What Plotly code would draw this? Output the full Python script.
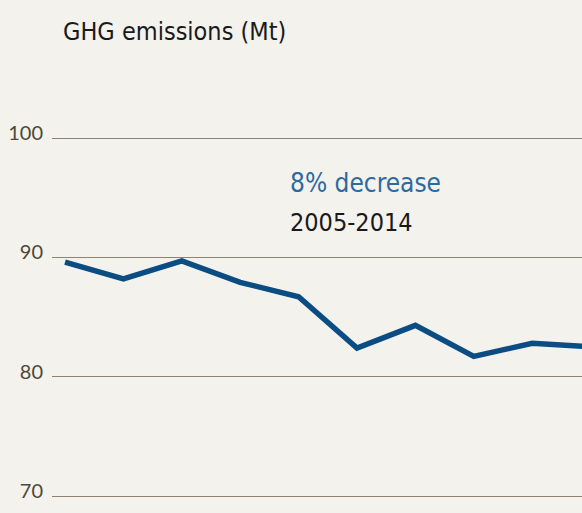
import plotly.graph_objects as go

years = [2005, 2006, 2007, 2008, 2009, 2010, 2011, 2012, 2013, 2014]
emissions = [89.6, 88.2, 89.7, 87.9, 86.7, 82.4, 84.3, 81.7, 82.8, 82.5]
y_ticks = [70, 80, 90, 100]
title_text = "GHG emissions (Mt)"
note_main = "8% decrease"
note_sub = "2005-2014"

BG = "#f4f2ed"
COND = "DejaVu Sans Condensed, Roboto Condensed, Noto Sans Condensed, Roboto"
fig = go.Figure()
fig.add_trace(go.Scatter(
    x=years, y=emissions, mode="lines",
    line=dict(color="#0b4c83", width=5.5, shape="linear"),
    hoverinfo="skip",
))

fig.add_annotation(x=0.445, xref="paper", y=96.2, yref="y", text=note_main,
                   showarrow=False, xanchor="left", yanchor="middle",
                   font=dict(family=COND, size=26, color="#2c6aa0"))
fig.add_annotation(x=0.445, xref="paper", y=92.95, yref="y", text=note_sub,
                   showarrow=False, xanchor="left", yanchor="middle",
                   font=dict(family=COND, size=25, color="#1a1a1a"))

fig.update_layout(
    width=582, height=513,
    paper_bgcolor=BG, plot_bgcolor=BG,
    margin=dict(l=52, r=0, t=60, b=0),
    showlegend=False,
    title=dict(text=title_text, x=63/582, xref="container", xanchor="left",
               y=1 - 31/513, yref="container", yanchor="middle",
               font=dict(family=COND, size=25, color="#1a1a1a")),
    xaxis=dict(range=[2004.777, 2013.853], showgrid=False, zeroline=False,
               showticklabels=False, showline=False, ticks=""),
    yaxis=dict(range=[68.575, 106.54], tickvals=y_ticks, ticktext=[str(v) for v in y_ticks],
               showgrid=True, gridcolor="#8c8371", gridwidth=1.2, zeroline=False,
               showline=False, ticks="", ticklabelstandoff=8, ticklabelshift=-5,
               tickfont=dict(family="Lato", size=20, color="#4f4838")),
)

fig.write_html("out.html", config={"displayModeBar": False},
               post_script="document.body.style.margin='0';document.body.style.padding='0';")
